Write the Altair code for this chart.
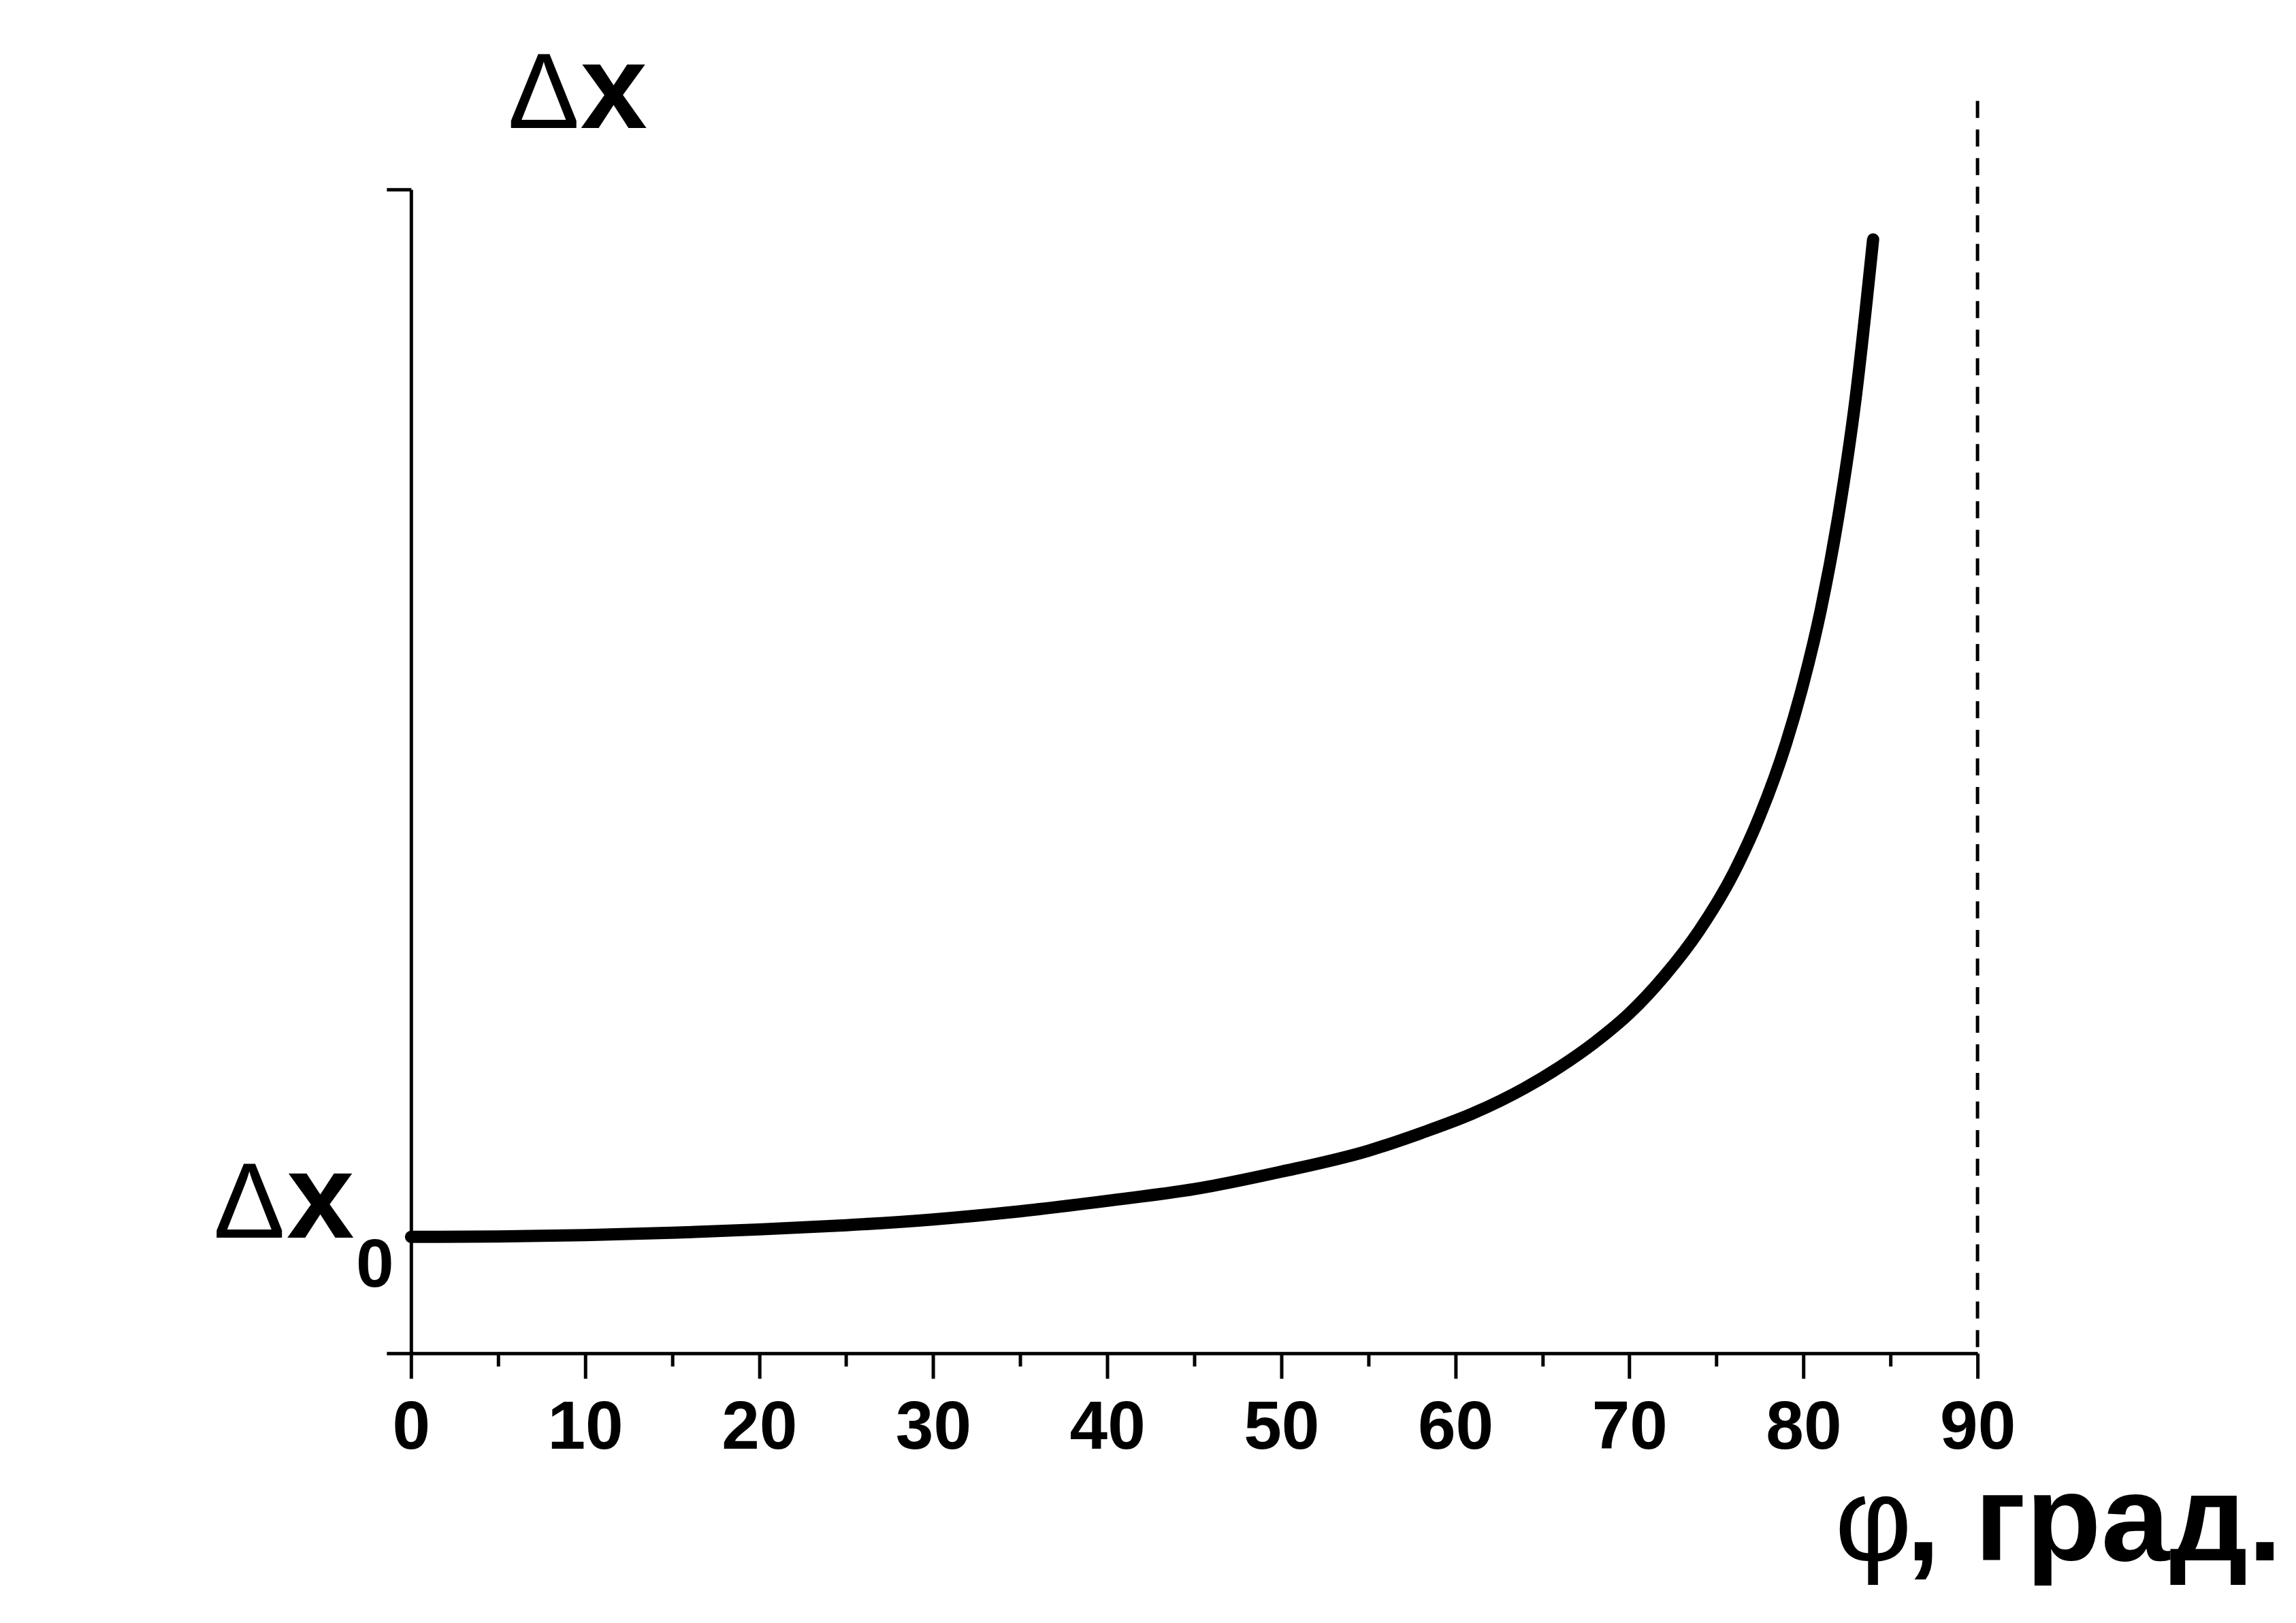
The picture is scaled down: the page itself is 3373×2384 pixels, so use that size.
import altair as alt
import pandas as pd

# curve (Δx in units of Δx0, φ in degrees)
phi = [0, 5, 10, 15, 20, 25, 30, 35, 40, 45, 50, 55, 58, 61, 64, 66, 68, 70,
       72, 74, 76, 77.5, 79, 80, 81, 82, 83, 84]
dx = [1.00, 1.004, 1.015, 1.035, 1.064, 1.10, 1.15, 1.22, 1.31, 1.41, 1.56, 1.74,
      1.89, 2.06, 2.28, 2.46, 2.67, 2.92, 3.24, 3.63, 4.13, 4.62, 5.24, 5.76,
      6.39, 7.19, 8.21, 9.57]

x_major = [0, 10, 20, 30, 40, 50, 60, 70, 80, 90]
x_minor = [5, 15, 25, 35, 45, 55, 65, 75, 85]
y_ticks = [0, 10]
asymptote = [90]

curve_df = pd.DataFrame({"phi": phi, "dx": dx})
asym_df = pd.DataFrame({"phi": asymptote, "top": [10.76], "bottom": [0]})

xscale = alt.Scale(domain=[0, 90], nice=False, zero=False)
yscale = alt.Scale(domain=[0, 10], nice=False)

SANS = "Liberation Sans, Arial, sans-serif"

curve = alt.Chart(curve_df).mark_line(
    color="black", strokeWidth=18, strokeCap="round", strokeJoin="round",
    interpolate="monotone"
).encode(
    x=alt.X("phi:Q", scale=xscale,
            axis=alt.Axis(values=x_major, title=None, tickSize=37, tickWidth=5,
                          labelFont=SANS, labelFontWeight="bold",
                          labelFontSize=100, labelColor="black",
                          labelPadding=24, domainWidth=5, domainColor="black",
                          tickColor="black", grid=False, orient="bottom",
                          labelFlush=False, labelOverlap=False)),
    y=alt.Y("dx:Q", scale=yscale,
            axis=alt.Axis(values=y_ticks, title=None, labels=False, tickSize=36,
                          tickWidth=5, domainWidth=5, domainColor="black",
                          tickColor="black", grid=False)),
)

asym = alt.Chart(asym_df).mark_rule(
    color="black", strokeWidth=5, strokeDash=[25, 17]
).encode(
    x=alt.X("phi:Q", scale=xscale,
            axis=alt.Axis(values=x_minor, title=None, labels=False, tickSize=19,
                          tickWidth=5, tickColor="black", domain=False,
                          grid=False, orient="bottom")),
    y=alt.Y("top:Q", scale=yscale),
    y2="bottom:Q",
)


def label(text, px, py, size, weight="normal", align="left"):
    df = pd.DataFrame({"t": [text], "px": [px], "py": [py]})
    return alt.Chart(df).mark_text(
        font=SANS, fontSize=size, fontWeight=weight, align=align,
        baseline="alphabetic", color="black"
    ).encode(x=alt.X("px:Q", scale=xscale, axis=None),
             y=alt.Y("py:Q", scale=yscale),
             text="t:N")


labels = [
    label("Δ", 9.69, 10.526, 158, align="right"),
    label("x", 9.73, 10.526, 177, weight="bold"),
    label("Δ", -7.23, 0.994, 158, align="right"),
    label("x", -7.15, 0.994, 179, weight="bold"),
    label("0", -3.16, 0.573, 100, weight="bold"),
    label("φ", 81.8, -1.778, 175),
    label(", град.", 85.9, -1.778, 181, weight="bold"),
]

chart = alt.layer(curve, asym, *labels).resolve_axis(
    x="independent"
).properties(
    width=2302, height=1710,
    padding={"left": 596, "top": 270, "right": 460, "bottom": 380},
    autosize=alt.AutoSizeParams(type="none"),
    background="white",
).configure_view(stroke=None)

chart.save("out.html", embed_options={"renderer": "svg", "actions": False})
